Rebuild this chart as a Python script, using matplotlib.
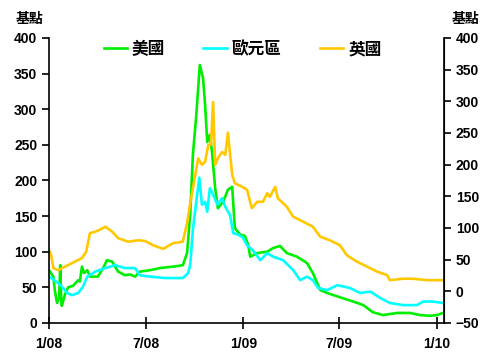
"""
Spreads (basis points) for US, Euro area and UK, 2008-2010.
"""
import matplotlib
matplotlib.use('Agg')
import matplotlib.pyplot as plt
import pandas as pd

plt.rcParams['font.family'] = ['Liberation Sans', 'Noto Sans CJK TC', 'DejaVu Sans']
plt.rcParams['font.weight'] = 'bold'

us_dates = ['2008-01-01', '2008-01-09', '2008-01-12', '2008-01-16', '2008-01-20',
            '2008-01-22', '2008-01-24', '2008-01-25', '2008-01-31', '2008-02-06',
            '2008-02-15', '2008-02-25', '2008-02-28', '2008-03-03', '2008-03-07',
            '2008-03-13', '2008-03-18', '2008-04-02', '2008-04-14', '2008-04-19',
            '2008-04-29', '2008-05-10', '2008-05-23', '2008-06-02', '2008-06-11',
            '2008-06-20', '2008-07-09', '2008-07-28', '2008-08-22', '2008-09-09',
            '2008-09-17', '2008-09-23', '2008-09-28', '2008-10-04', '2008-10-08',
            '2008-10-11', '2008-10-17', '2008-10-21', '2008-10-25', '2008-10-30',
            '2008-11-03', '2008-11-09', '2008-11-14', '2008-11-24', '2008-12-03',
            '2008-12-11', '2008-12-16', '2008-12-26', '2009-01-04', '2009-01-10',
            '2009-01-14', '2009-01-27', '2009-02-15', '2009-02-26', '2009-03-11',
            '2009-03-24', '2009-04-12', '2009-05-01', '2009-05-12', '2009-05-26',
            '2009-06-08', '2009-07-02', '2009-07-27', '2009-08-15', '2009-09-02',
            '2009-09-21', '2009-10-18', '2009-11-11', '2009-11-30', '2009-12-19',
            '2010-01-01', '2010-01-12']
us_values = [74, 65, 45, 28, 35,
             81, 30, 24, 40, 50,
             52, 60, 58, 79, 70,
             74, 65, 65, 80, 88,
             86, 72, 67, 68, 65,
             72, 74, 77, 79, 81,
             98, 154, 236, 288, 330,
             362, 344, 306, 254, 264,
             240, 189, 161, 170, 187,
             191, 133, 124, 122, 110,
             93, 98, 100, 105, 108,
             98, 93, 84, 70, 46,
             42, 36, 30, 25, 15,
             11, 14, 14, 11, 10,
             11, 14]

eu_dates = ['2008-01-01', '2008-01-07', '2008-01-18', '2008-01-25', '2008-02-04',
            '2008-02-13', '2008-02-25', '2008-03-05', '2008-03-13', '2008-03-28',
            '2008-04-16', '2008-05-04', '2008-05-23', '2008-06-11', '2008-06-20',
            '2008-07-09', '2008-08-07', '2008-09-09', '2008-09-19', '2008-09-23',
            '2008-09-28', '2008-10-06', '2008-10-10', '2008-10-15', '2008-10-21',
            '2008-10-25', '2008-10-30', '2008-11-05', '2008-11-13', '2008-11-22',
            '2008-11-28', '2008-12-07', '2008-12-13', '2008-12-22', '2008-12-31',
            '2009-01-08', '2009-01-19', '2009-02-02', '2009-02-15', '2009-02-26',
            '2009-03-17', '2009-04-05', '2009-04-18', '2009-05-01', '2009-05-12',
            '2009-05-22', '2009-06-08', '2009-06-27', '2009-07-21', '2009-08-09',
            '2009-08-28', '2009-09-16', '2009-10-04', '2009-10-29', '2009-11-24',
            '2009-12-06', '2009-12-24', '2010-01-12']
eu_values = [65, 62, 56, 51, 42,
             39, 42, 51, 65, 72,
             77, 81, 77, 77, 67,
             65, 63, 63, 70, 82,
             131, 180, 204, 166, 170,
             156, 189, 180, 166, 175,
             163, 151, 126, 124, 120,
             109, 102, 88, 98, 93,
             88, 74, 60, 65, 60,
             49, 46, 53, 49, 42,
             44, 35, 28, 25, 25,
             30, 30, 28]

uk_dates = ['2008-01-01', '2008-01-05', '2008-01-09', '2008-01-18', '2008-01-31',
            '2008-02-19', '2008-03-03', '2008-03-11', '2008-03-18', '2008-03-28',
            '2008-04-06', '2008-04-16', '2008-04-29', '2008-05-10', '2008-05-29',
            '2008-06-17', '2008-06-30', '2008-07-15', '2008-08-03', '2008-08-22',
            '2008-09-09', '2008-09-17', '2008-09-23', '2008-09-28', '2008-10-08',
            '2008-10-15', '2008-10-21', '2008-10-27', '2008-11-01', '2008-11-05',
            '2008-11-09', '2008-11-14', '2008-11-22', '2008-11-28', '2008-12-03',
            '2008-12-11', '2008-12-16', '2008-12-30', '2009-01-08', '2009-01-17',
            '2009-01-27', '2009-02-07', '2009-02-15', '2009-02-20', '2009-03-02',
            '2009-03-07', '2009-03-24', '2009-04-05', '2009-04-24', '2009-05-12',
            '2009-05-26', '2009-06-13', '2009-07-02', '2009-07-15', '2009-08-03',
            '2009-08-22', '2009-09-10', '2009-09-29', '2009-10-04', '2009-10-29',
            '2009-11-17', '2009-12-13', '2010-01-12']
uk_values = [102, 95, 77, 74, 79,
             86, 91, 100, 126, 128,
             131, 135, 128, 119, 114,
             116, 115, 109, 104, 112,
             114, 140, 168, 189, 231,
             222, 226, 250, 250, 310,
             222, 231, 240, 236, 267,
             208, 196, 191, 187, 161,
             170, 170, 182, 177, 191,
             175, 163, 149, 142, 135,
             121, 116, 109, 95, 86,
             79, 72, 67, 60, 62,
             62, 60, 60]

series = [('美國', us_dates, us_values, '#00EE00'),
          ('歐元區', eu_dates, eu_values, '#00FFFF'),
          ('英國', uk_dates, uk_values, '#FFC800')]

x_ticks = ['2008-01-01', '2008-07-01', '2009-01-01', '2009-07-01', '2010-01-01']
x_tick_labels = ['1/08', '7/08', '1/09', '7/09', '1/10']
left_ticks = list(range(0, 401, 50))
right_ticks = list(range(-50, 401, 50))


def create_figure(path_figure):
    fig = plt.figure(figsize=(4.81, 3.58), dpi=100)
    ax = fig.add_axes([0.102, 0.098, 0.821, 0.796])

    for name, dates, values, color in series:
        ax.plot(pd.to_datetime(dates), values, color=color, lw=1.9, label=name)

    ax.set_xlim(pd.Timestamp('2008-01-01'), pd.Timestamp('2010-01-14'))
    ax.set_ylim(0, 400)
    ax.set_yticks(left_ticks)
    ax.set_xticks(pd.to_datetime(x_ticks))
    ax.set_xticklabels(x_tick_labels)
    ax.spines['top'].set_visible(False)
    for s in ['left', 'bottom']:
        ax.spines[s].set_linewidth(1.2)
    ax.tick_params(axis='x', direction='inout', length=9, width=1.2,
                   labelsize=10, pad=6)
    ax.tick_params(axis='y', direction='out', length=5, width=1.2,
                   labelsize=10)

    ax2 = ax.twinx()
    ax2.set_ylim(-50, 400)
    ax2.set_yticks(right_ticks)
    ax2.spines['top'].set_visible(False)
    ax2.spines['left'].set_visible(False)
    ax2.spines['bottom'].set_visible(False)
    ax2.spines['right'].set_linewidth(1.2)
    ax2.tick_params(axis='y', direction='out', length=5, width=1.2,
                    labelsize=10)

    fig.text(0.062, 0.947, '基點', ha='center', va='center', fontsize=10,
             fontweight='bold', family=['Noto Sans CJK TC'])
    fig.text(0.968, 0.947, '基點', ha='center', va='center', fontsize=10,
             fontweight='bold', family=['Noto Sans CJK TC'])

    ax.legend(loc='upper center', bbox_to_anchor=(0.49, 1.045), ncol=3,
              frameon=False, handlelength=1.4, handletextpad=0.3,
              columnspacing=2.3, prop={'family': 'Noto Sans CJK TC',
                                       'weight': 'bold', 'size': 12})

    fig.savefig(path_figure, dpi=100)


if __name__ == '__main__':
    create_figure('out.png')
